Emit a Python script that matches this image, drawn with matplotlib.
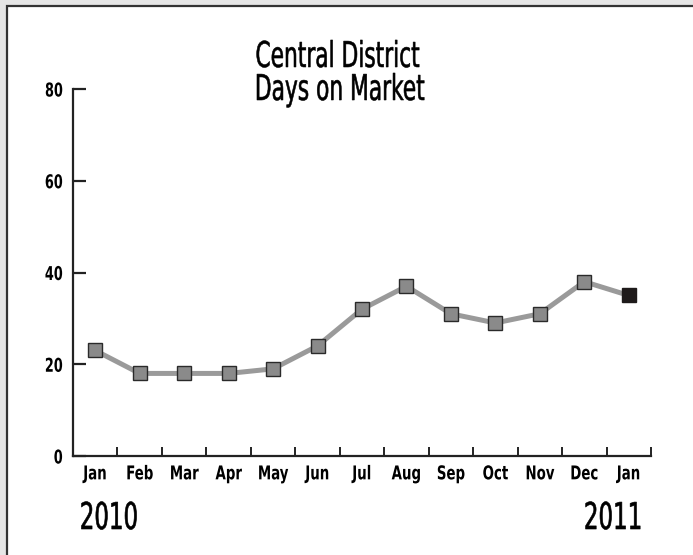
import matplotlib
matplotlib.use('Agg')
import matplotlib.pyplot as plt
from matplotlib.patches import Rectangle
from matplotlib.patheffects import AbstractPathEffect
from matplotlib.transforms import Affine2D

months = ['Jan', 'Feb', 'Mar', 'Apr', 'May', 'Jun', 'Jul', 'Aug', 'Sep', 'Oct', 'Nov', 'Dec', 'Jan']
days = [23, 18, 18, 18, 19, 24, 32, 37, 31, 29, 31, 38, 35]
yticks = [0, 20, 40, 60, 80]
title_lines = ['Central District', 'Days on Market']
year_start = '2010'
year_end = '2011'

plt.rcParams['font.family'] = ['DejaVu Sans']
plt.rcParams['font.stretch'] = 'condensed'


# squeeze text horizontally (and thicken a bit) to get closer to the narrow font of the original
class Squeeze(AbstractPathEffect):
    def __init__(self, sx, anchor='center', stroke=0):
        super().__init__()
        self.sx = sx
        self.anchor = anchor
        self.stroke = stroke

    def draw_path(self, renderer, gc, tpath, affine, rgbFace=None):
        ext = tpath.get_extents(affine)
        if self.anchor == 'left':
            cx = ext.x0
        elif self.anchor == 'right':
            cx = ext.x1
        else:
            cx = (ext.x0 + ext.x1) / 2
        tr = affine + Affine2D().translate(-cx, 0).scale(self.sx, 1).translate(cx, 0)
        gc0 = renderer.new_gc()
        gc0.copy_properties(gc)
        if self.stroke:
            gc0.set_linewidth(self.stroke)
            gc0.set_foreground(rgbFace)
        renderer.draw_path(gc0, tpath, tr, rgbFace)
        gc0.restore()


W, H = 693, 555
fig = plt.figure(figsize=(W / 100, H / 100), dpi=100, facecolor='#e6e6e6')

# white panel with the dark frame line on top and left only
fig.patches.append(Rectangle((6.5 / W, -0.1), 1.2, (H - 5.5) / H + 0.1, transform=fig.transFigure,
                             facecolor='white', edgecolor='#333333', lw=1.6, zorder=-5))

ax = fig.add_axes([73 / W, 1 - 456 / H, (651 - 73) / W, (456 - 89) / H])
ax.set_facecolor('none')

x = list(range(len(months)))
ax.plot(x, days, color='#9a9a9a', lw=3.6, zorder=2, solid_joinstyle='round')
ax.plot(x[:-1], days[:-1], 's', ms=10.5, mfc='#8a8a8a', mec='#2a2a2a', mew=1, zorder=3)
ax.plot(x[-1:], days[-1:], 's', ms=10.5, mfc='#1e1a1a', mec='#1e1a1a', mew=1, zorder=3)

ax.set_xlim(-0.5, len(months) - 0.5)
ax.set_ylim(0, 80)

for s in ['top', 'right']:
    ax.spines[s].set_visible(False)
for s in ['left', 'bottom']:
    ax.spines[s].set_linewidth(1.6)
    ax.spines[s].set_color('#222222')

ax.set_yticks(yticks)
ylabs = ax.set_yticklabels([str(v) for v in yticks], fontsize=13.7, fontweight='bold')
ax.tick_params(axis='y', direction='in', length=9, width=1.6, pad=7.2, color='#222222')
for t in ylabs:
    t.set_path_effects([Squeeze(0.75, 'right')])

ax.set_xticks(x)
xlabs = ax.set_xticklabels(months, fontsize=13.7, fontweight='bold')
ax.tick_params(axis='x', length=0, pad=6)
for t in xlabs:
    t.set_path_effects([Squeeze(0.78, 'center')])
ax.set_xticks([i - 0.5 for i in range(len(months) + 1)], minor=True)
ax.tick_params(axis='x', which='minor', direction='in', length=6.5, width=1.4, color='#222222')

fig.text(337 / W, 1 - 67 / H, title_lines[0], ha='center', va='baseline', fontsize=25.6,
         path_effects=[Squeeze(0.68, 'center', 0.4)])
fig.text(339 / W, 1 - 100 / H, title_lines[1], ha='center', va='baseline', fontsize=25.6,
         path_effects=[Squeeze(0.68, 'center', 0.4)])
fig.text(79 / W, 1 - 529 / H, year_start, ha='left', va='baseline', fontsize=26.6,
         path_effects=[Squeeze(0.69, 'left', 0.45)])
fig.text(643 / W, 1 - 529 / H, year_end, ha='right', va='baseline', fontsize=26.6,
         path_effects=[Squeeze(0.69, 'right', 0.45)])

fig.savefig('out.png', dpi=100, facecolor=fig.get_facecolor())
